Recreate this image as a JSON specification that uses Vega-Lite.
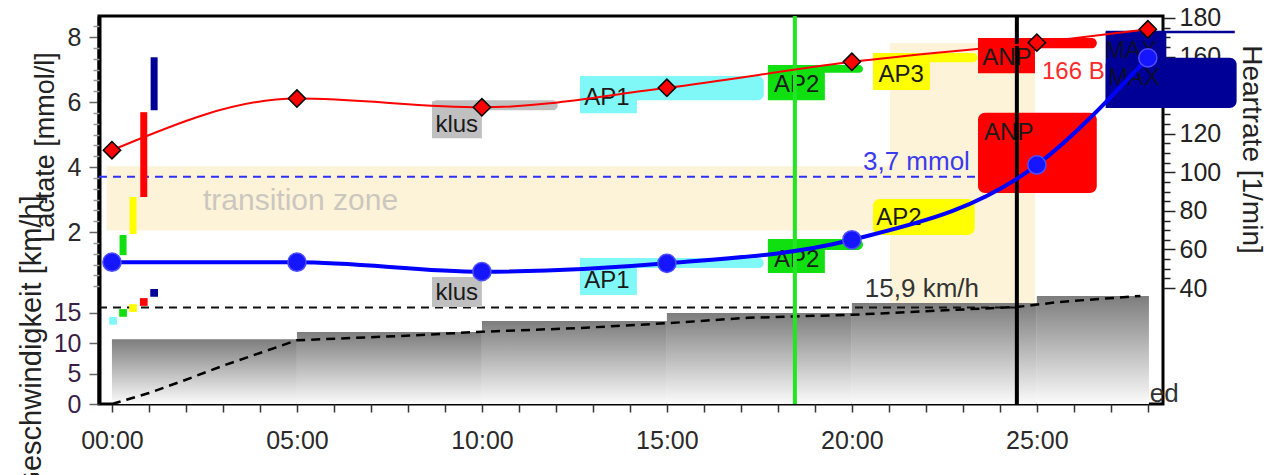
{
  "$schema": "https://vega.github.io/schema/vega-lite/v6.json",
  "width": 1064,
  "height": 388,
  "autosize": {"type": "none"},
  "padding": {"left": 99, "top": 16, "right": 105, "bottom": 71},
  "background": "white",
  "config": {
    "font": "Liberation Sans",
    "view": {"stroke": "#000", "strokeWidth": 3},
    "axis": {"grid": false, "domain": false, "labelFont": "Liberation Sans", "labelFontSize": 25, "labelColor": "#222", "tickColor": "#333", "titleFont": "Liberation Sans", "titleFontWeight": "normal", "titleColor": "#222", "labelOverlap": false}
  },
  "datasets": {
    "zones": [{"t": -0.15, "t2": 24.95, "L": 2.05, "L2": 4.03}, {"t": 21.03, "t2": 24.95, "L": -0.5, "L2": 7.82}],
    "ztext": [{"t": 2.46, "L": 2.68, "txt": "transition zone"}],
    "lac37": [{"t": -0.35, "t2": 23.38, "L": 3.7}],
    "spd159": [{"t": -0.35, "t2": 24.5, "S": 15.9}],
    "steps": [
      {"t": 0, "t2": 5, "S": 10.65}, {"t": 5, "t2": 10, "S": 11.86}, {"t": 10, "t2": 15, "S": 13.67},
      {"t": 15, "t2": 20, "S": 14.99}, {"t": 20, "t2": 25, "S": 16.63}, {"t": 25, "t2": 28.03, "S": 17.79}
    ],
    "spdline": [
      {"t": 0, "S": 0}, {"t": 1, "S": 1.8}, {"t": 2, "S": 4.0}, {"t": 3, "S": 6.3}, {"t": 4, "S": 8.4}, {"t": 5, "S": 10.5},
      {"t": 7.8, "S": 11.2}, {"t": 10, "S": 11.9}, {"t": 12.6, "S": 12.5}, {"t": 15, "S": 13.3}, {"t": 17.2, "S": 14.2},
      {"t": 20, "S": 14.7}, {"t": 24.5, "S": 16.0}, {"t": 25.6, "S": 16.8}, {"t": 27.8, "S": 17.8}
    ],
    "indBars": [
      {"t": 0.30, "L": 1.29, "L2": 1.91, "zone": "AP2"}, {"t": 0.57, "L": 1.94, "L2": 3.08, "zone": "AP3"},
      {"t": 0.86, "L": 3.08, "L2": 5.69, "zone": "ANP"}, {"t": 1.14, "L": 5.75, "L2": 7.38, "zone": "MAX"}
    ],
    "indSq": [
      {"t": 0.03, "S": 13.7, "zone": "AP1"}, {"t": 0.30, "S": 15.0, "zone": "AP2"}, {"t": 0.57, "S": 15.8, "zone": "AP3"},
      {"t": 0.86, "S": 16.8, "zone": "ANP"}, {"t": 1.14, "S": 18.3, "zone": "MAX"}
    ],
    "lacBands": [
      {"t": 8.65, "t2": 12.05, "L": 5.75, "L2": 6.06, "zone": "klus"},
      {"t": 12.65, "t2": 17.62, "L": 6.06, "L2": 6.8, "zone": "AP1"},
      {"t": 17.73, "t2": 20.3, "L": 6.9, "L2": 7.14, "zone": "AP2"},
      {"t": 20.57, "t2": 23.4, "L": 7.23, "L2": 7.51, "zone": "AP3"},
      {"t": 23.41, "t2": 26.62, "L": 7.66, "L2": 7.97, "zone": "ANP"}
    ],
    "lacBoxes": [
      {"t": 8.65, "t2": 10.0, "L": 4.89, "L2": 6.03, "zone": "klus"},
      {"t": 12.65, "t2": 14.19, "L": 5.66, "L2": 6.8, "zone": "AP1"},
      {"t": 17.73, "t2": 19.27, "L": 6.06, "L2": 7.14, "zone": "AP2"},
      {"t": 20.57, "t2": 22.11, "L": 6.37, "L2": 7.51, "zone": "AP3"},
      {"t": 23.41, "t2": 24.95, "L": 6.89, "L2": 7.97, "zone": "ANP"}
    ],
    "hrRounded": [
      {"t": 12.65, "t2": 17.62, "H": 50.4, "H2": 55.6, "zone": "AP1"},
      {"t": 17.73, "t2": 20.3, "H": 59.7, "H2": 65.4, "zone": "AP2"},
      {"t": 20.57, "t2": 23.32, "H": 67.5, "H2": 86.2, "zone": "AP3"},
      {"t": 23.41, "t2": 26.62, "H": 89.3, "H2": 130.8, "zone": "ANP"}
    ],
    "hrBoxes": [
      {"t": 8.65, "t2": 10.0, "H": 30.2, "H2": 45.7, "zone": "klus"},
      {"t": 12.65, "t2": 14.19, "H": 36.4, "H2": 55.6, "zone": "AP1"},
      {"t": 17.73, "t2": 19.27, "H": 47.8, "H2": 65.4, "zone": "AP2"}
    ],
    "lacLabels": [
      {"t": 9.32, "L": 5.08, "txt": "klus"}, {"t": 13.38, "L": 5.91, "txt": "AP1"}, {"t": 18.51, "L": 6.31, "txt": "AP2"},
      {"t": 21.33, "L": 6.62, "txt": "AP3"}, {"t": 24.19, "L": 7.14, "txt": "ANP"}
    ],
    "hrLabels": [
      {"t": 9.32, "H": 33.8, "txt": "klus"}, {"t": 13.38, "H": 40.0, "txt": "AP1"}, {"t": 18.51, "H": 50.9, "txt": "AP2"},
      {"t": 21.27, "H": 72.7, "txt": "AP2"}, {"t": 24.24, "H": 116.8, "txt": "ANP"}
    ],
    "bpm": [{"t": 25.14, "L": 6.71, "txt": "166 BPM"}],
    "mmol": [{"t": 20.3, "L": 3.91, "txt": "3,7 mmol"}],
    "kmh": [{"t": 20.35, "S": 17.6, "txt": "15,9 km/h"}],
    "maxSq": [{"t": 26.86, "t2": 28.5, "H": 133.3, "H2": 172.7, "zone": "MAX"}],
    "maxRound": [{"t": 26.86, "t2": 30.4, "H": 133.3, "H2": 159.3, "zone": "MAX"}],
    "maxLine": [{"t": 26.86, "t2": 30.35, "H": 172.7}],
    "maxLabels": [{"t": 26.84, "H": 159.3, "txt": "MAX"}, {"t": 26.92, "H": 145.3, "txt": "MAX"}],
    "greenLine": [{"t": 18.46}],
    "blackLine": [{"t": 24.46}],
    "lac": [
      {"t": 0, "L": 4.52}, {"t": 5, "L": 6.11}, {"t": 10, "L": 5.84}, {"t": 15, "L": 6.44},
      {"t": 20, "L": 7.24}, {"t": 25, "L": 7.83}, {"t": 28, "L": 8.24}
    ],
    "hr": [
      {"t": 0, "H": 53.4}, {"t": 5, "H": 53.4}, {"t": 10, "H": 48.5}, {"t": 15, "H": 52.8},
      {"t": 20, "H": 65.0}, {"t": 25, "H": 103.8}, {"t": 28, "H": 159.3}
    ],
    "ed": [{"t": 28.05, "S": 0.33, "txt": "ed"}]
  },
  "encoding": {
    "x": {
      "field": "t", "type": "quantitative",
      "scale": {"domain": [-0.35, 28.41], "nice": false, "zero": false},
      "axis": {
        "values": [0,1,2,3,4,5,6,7,8,9,10,11,12,13,14,15,16,17,18,19,20,21,22,23,24,25,26,27,28],
        "labelExpr": "datum.value % 5 === 0 ? (datum.value < 10 ? '0' : '') + datum.value + ':00' : ''",
        "tickSize": 8, "tickWidth": 1.5, "labelPadding": 16, "labelFlush": false, "title": null, "domain": false, "labelColor": "#2a2a2a"
      }
    }
  },
  "resolve": {"scale": {"y": "independent"}},
  "layer": [
    {
      "data": {"name": "zones"},
      "mark": {"type": "rect", "fill": "#fdf3d8", "stroke": null},
      "encoding": {
        "x2": {"field": "t2"},
        "y": {"field": "L", "type": "quantitative", "scale": {"domain": [-3.29, 8.65], "nice": false, "zero": false}, "axis": null},
        "y2": {"field": "L2"}
      }
    },
    {
      "data": {"name": "ztext"},
      "mark": {"type": "text", "align": "left", "baseline": "alphabetic", "fontSize": 30, "color": "#cbc7bf"},
      "encoding": {
        "y": {"field": "L", "type": "quantitative", "scale": {"domain": [-3.29, 8.65], "nice": false, "zero": false}, "axis": null},
        "text": {"field": "txt"}
      }
    },
    {
      "data": {"name": "steps"},
      "mark": {"type": "rect", "fill": {"gradient": "linear", "x1": 0, "y1": 0, "x2": 0, "y2": 1, "stops": [{"offset": 0, "color": "#7d7d7d"}, {"offset": 1, "color": "#fbfbfb"}]}, "stroke": null},
      "encoding": {
        "x2": {"field": "t2"},
        "y": {"field": "S", "type": "quantitative", "scale": {"domain": [0, 63.9], "nice": false, "zero": false},
          "axis": {"orient": "left", "values": [0, 5, 10, 15], "tickSize": 10, "tickWidth": 1.5, "tickColor": "#666", "labelPadding": 8, "labelColor": "#3a1e46", "domain": false,
            "title": "Geschwindigkeit [km/h]", "titleAngle": 270, "titleAlign": "center", "titleBaseline": "alphabetic", "titleX": -59, "titleY": 328, "titleFontSize": 29}},
        "y2": {"datum": 0}
      }
    },
    {
      "data": {"name": "lac37"},
      "mark": {"type": "rule", "color": "#3030ff", "strokeDash": [8, 6], "strokeWidth": 2},
      "encoding": {
        "x2": {"field": "t2"},
        "y": {"field": "L", "type": "quantitative", "scale": {"domain": [-3.29, 8.65], "nice": false, "zero": false}, "axis": null}
      }
    },
    {
      "data": {"name": "spd159"},
      "mark": {"type": "rule", "color": "#111", "strokeDash": [8, 6], "strokeWidth": 2},
      "encoding": {
        "x2": {"field": "t2"},
        "y": {"field": "S", "type": "quantitative", "scale": {"domain": [0, 63.9], "nice": false, "zero": false}, "axis": null}
      }
    },
    {
      "data": {"name": "spdline"},
      "mark": {"type": "line", "color": "#000", "strokeDash": [9, 6], "strokeWidth": 2.5},
      "encoding": {
        "y": {"field": "S", "type": "quantitative", "scale": {"domain": [0, 63.9], "nice": false, "zero": false}, "axis": null}
      }
    },
    {
      "data": {"name": "indBars"},
      "mark": {"type": "rule", "strokeWidth": 7},
      "encoding": {
        "y": {"field": "L", "type": "quantitative", "scale": {"domain": [-3.29, 8.65], "nice": false, "zero": false}, "axis": null},
        "y2": {"field": "L2"},
        "color": {"field": "zone", "type": "nominal", "scale": {"domain": ["klus", "AP1", "AP2", "AP3", "ANP", "MAX"], "range": ["#c0c0c0", "#80f8f8", "#10e010", "#ffff00", "#ff0000", "#000096"]}, "legend": null}
      }
    },
    {
      "data": {"name": "indSq"},
      "mark": {"type": "square", "size": 60, "filled": true, "opacity": 1},
      "encoding": {
        "y": {"field": "S", "type": "quantitative", "scale": {"domain": [0, 63.9], "nice": false, "zero": false}, "axis": null},
        "color": {"field": "zone", "type": "nominal", "scale": {"domain": ["klus", "AP1", "AP2", "AP3", "ANP", "MAX"], "range": ["#c0c0c0", "#80f8f8", "#10e010", "#ffff00", "#ff0000", "#000096"]}, "legend": null}
      }
    },
    {
      "data": {"name": "lacBands"},
      "mark": {"type": "rect", "cornerRadius": 6, "stroke": null},
      "encoding": {
        "x2": {"field": "t2"},
        "y": {"field": "L", "type": "quantitative", "scale": {"domain": [-3.29, 8.65], "nice": false, "zero": false}, "axis": null},
        "y2": {"field": "L2"},
        "color": {"field": "zone", "type": "nominal", "scale": {"domain": ["klus", "AP1", "AP2", "AP3", "ANP", "MAX"], "range": ["#c0c0c0", "#80f8f8", "#10e010", "#ffff00", "#ff0000", "#000096"]}, "legend": null}
      }
    },
    {
      "data": {"name": "lacBoxes"},
      "mark": {"type": "rect", "stroke": null},
      "encoding": {
        "x2": {"field": "t2"},
        "y": {"field": "L", "type": "quantitative", "scale": {"domain": [-3.29, 8.65], "nice": false, "zero": false}, "axis": null},
        "y2": {"field": "L2"},
        "color": {"field": "zone", "type": "nominal", "scale": {"domain": ["klus", "AP1", "AP2", "AP3", "ANP", "MAX"], "range": ["#c0c0c0", "#80f8f8", "#10e010", "#ffff00", "#ff0000", "#000096"]}, "legend": null}
      }
    },
    {
      "data": {"name": "hrRounded"},
      "mark": {"type": "rect", "cornerRadius": 7, "stroke": null},
      "encoding": {
        "x2": {"field": "t2"},
        "y": {"field": "H", "type": "quantitative", "scale": {"domain": [-20.1, 181], "nice": false, "zero": false}, "axis": null},
        "y2": {"field": "H2"},
        "color": {"field": "zone", "type": "nominal", "scale": {"domain": ["klus", "AP1", "AP2", "AP3", "ANP", "MAX"], "range": ["#c0c0c0", "#80f8f8", "#10e010", "#ffff00", "#ff0000", "#000096"]}, "legend": null}
      }
    },
    {
      "data": {"name": "hrBoxes"},
      "mark": {"type": "rect", "stroke": null},
      "encoding": {
        "x2": {"field": "t2"},
        "y": {"field": "H", "type": "quantitative", "scale": {"domain": [-20.1, 181], "nice": false, "zero": false}, "axis": null},
        "y2": {"field": "H2"},
        "color": {"field": "zone", "type": "nominal", "scale": {"domain": ["klus", "AP1", "AP2", "AP3", "ANP", "MAX"], "range": ["#c0c0c0", "#80f8f8", "#10e010", "#ffff00", "#ff0000", "#000096"]}, "legend": null}
      }
    },
    {
      "data": {"name": "lacLabels"},
      "mark": {"type": "text", "align": "center", "baseline": "alphabetic", "fontSize": 24, "color": "#1a1a1a"},
      "encoding": {
        "y": {"field": "L", "type": "quantitative", "scale": {"domain": [-3.29, 8.65], "nice": false, "zero": false}, "axis": null},
        "text": {"field": "txt"}
      }
    },
    {
      "data": {"name": "hrLabels"},
      "mark": {"type": "text", "align": "center", "baseline": "alphabetic", "fontSize": 24, "color": "#1a1a1a"},
      "encoding": {
        "y": {"field": "H", "type": "quantitative", "scale": {"domain": [-20.1, 181], "nice": false, "zero": false}, "axis": null},
        "text": {"field": "txt"}
      }
    },
    {
      "data": {"name": "mmol"},
      "mark": {"type": "text", "align": "left", "baseline": "alphabetic", "fontSize": 26, "color": "#3b3bf0"},
      "encoding": {
        "y": {"field": "L", "type": "quantitative", "scale": {"domain": [-3.29, 8.65], "nice": false, "zero": false}, "axis": null},
        "text": {"field": "txt"}
      }
    },
    {
      "data": {"name": "kmh"},
      "mark": {"type": "text", "align": "left", "baseline": "alphabetic", "fontSize": 26, "color": "#333"},
      "encoding": {
        "y": {"field": "S", "type": "quantitative", "scale": {"domain": [0, 63.9], "nice": false, "zero": false}, "axis": null},
        "text": {"field": "txt"}
      }
    },
    {
      "data": {"name": "bpm"},
      "mark": {"type": "text", "align": "left", "baseline": "alphabetic", "fontSize": 24, "color": "#ff2a2a"},
      "encoding": {
        "y": {"field": "L", "type": "quantitative", "scale": {"domain": [-3.29, 8.65], "nice": false, "zero": false}, "axis": null},
        "text": {"field": "txt"}
      }
    },
    {
      "data": {"name": "maxRound"},
      "mark": {"type": "rect", "cornerRadius": 7, "stroke": null},
      "encoding": {
        "x2": {"field": "t2"},
        "y": {"field": "H", "type": "quantitative", "scale": {"domain": [-20.1, 181], "nice": false, "zero": false}, "axis": null},
        "y2": {"field": "H2"},
        "color": {"field": "zone", "type": "nominal", "scale": {"domain": ["klus", "AP1", "AP2", "AP3", "ANP", "MAX"], "range": ["#c0c0c0", "#80f8f8", "#10e010", "#ffff00", "#ff0000", "#000096"]}, "legend": null}
      }
    },
    {
      "data": {"name": "maxSq"},
      "mark": {"type": "rect", "stroke": null},
      "encoding": {
        "x2": {"field": "t2"},
        "y": {"field": "H", "type": "quantitative", "scale": {"domain": [-20.1, 181], "nice": false, "zero": false}, "axis": null},
        "y2": {"field": "H2"},
        "color": {"field": "zone", "type": "nominal", "scale": {"domain": ["klus", "AP1", "AP2", "AP3", "ANP", "MAX"], "range": ["#c0c0c0", "#80f8f8", "#10e010", "#ffff00", "#ff0000", "#000096"]}, "legend": null}
      }
    },
    {
      "data": {"name": "maxLine"},
      "mark": {"type": "rule", "color": "#000096", "strokeWidth": 2.5},
      "encoding": {
        "x2": {"field": "t2"},
        "y": {"field": "H", "type": "quantitative", "scale": {"domain": [-20.1, 181], "nice": false, "zero": false}, "axis": null}
      }
    },
    {
      "data": {"name": "maxLabels"},
      "mark": {"type": "text", "align": "left", "baseline": "alphabetic", "fontSize": 24, "color": "#0c0c30"},
      "encoding": {
        "y": {"field": "H", "type": "quantitative", "scale": {"domain": [-20.1, 181], "nice": false, "zero": false}, "axis": null},
        "text": {"field": "txt"}
      }
    },
    {
      "data": {"name": "greenLine"},
      "mark": {"type": "rule", "color": "#22e622", "strokeWidth": 4},
      "encoding": {}
    },
    {
      "data": {"name": "blackLine"},
      "mark": {"type": "rule", "color": "#000", "strokeWidth": 4},
      "encoding": {}
    },
    {
      "data": {"name": "lac"},
      "mark": {"type": "line", "color": "#ff0000", "strokeWidth": 2, "interpolate": "monotone"},
      "encoding": {
        "y": {"field": "L", "type": "quantitative", "scale": {"domain": [-3.29, 8.65], "nice": false, "zero": false},
          "axis": {"orient": "left", "values": [2, 4, 6, 8], "tickSize": 10, "tickWidth": 1.5, "tickColor": "#666", "labelPadding": 8, "labelColor": "#2a2a2a",
            "domain": true, "domainColor": "#000", "domainWidth": 4,
            "title": "Lactate [mmol/l]", "titleAngle": 270, "titleAlign": "center", "titleBaseline": "alphabetic", "titleX": -46, "titleY": 131, "titleFontSize": 27}}
      }
    },
    {
      "data": {"name": "hr"},
      "mark": {"type": "line", "color": "#0000ff", "strokeWidth": 4, "interpolate": "monotone"},
      "encoding": {
        "y": {"field": "H", "type": "quantitative", "scale": {"domain": [-20.1, 181], "nice": false, "zero": false},
          "axis": {"orient": "right", "values": [40, 60, 80, 100, 120, 140, 160, 180], "tickSize": 12, "tickWidth": 1.5, "tickColor": "#222", "labelPadding": 4, "domain": false,
            "title": "Heartrate [1/min]", "titleAngle": 90, "titleAlign": "center", "titleBaseline": "alphabetic", "titleX": 79, "titleY": 133, "titleFontSize": 28}}
      }
    },
    {
      "data": {"name": "lac"},
      "mark": {"type": "point", "shape": "diamond", "filled": true, "fill": "#ff0000", "stroke": "#000", "strokeWidth": 1.5, "size": 300, "opacity": 1},
      "encoding": {
        "y": {"field": "L", "type": "quantitative", "scale": {"domain": [-3.29, 8.65], "nice": false, "zero": false},
          "axis": {"orient": "left", "values": [0.333, 0.667, 1, 1.333, 1.667, 2.333, 2.667, 3, 3.333, 3.667, 4.333, 4.667, 5, 5.333, 5.667, 6.333, 6.667, 7, 7.333, 7.667, 8.333],
            "tickSize": 6, "tickWidth": 1.5, "tickColor": "#999", "labels": false, "domain": false, "title": null}}
      }
    },
    {
      "data": {"name": "hr"},
      "mark": {"type": "point", "shape": "circle", "filled": true, "fill": "#1515ff", "stroke": "#4d4dff", "strokeWidth": 1.5, "size": 330, "opacity": 1},
      "encoding": {
        "y": {"field": "H", "type": "quantitative", "scale": {"domain": [-20.1, 181], "nice": false, "zero": false},
          "axis": {"orient": "right", "values": [45, 50, 55, 65, 70, 75, 85, 90, 95, 105, 110, 115, 125, 130, 135, 145, 150, 155, 165, 170, 175],
            "tickSize": 7, "tickWidth": 1.5, "tickColor": "#222", "labels": false, "domain": false, "title": null}}
      }
    },
    {
      "data": {"name": "ed"},
      "mark": {"type": "text", "align": "left", "baseline": "alphabetic", "fontSize": 26, "color": "#333"},
      "encoding": {
        "y": {"field": "S", "type": "quantitative", "scale": {"domain": [0, 63.9], "nice": false, "zero": false}, "axis": null},
        "text": {"field": "txt"}
      }
    }
  ]
}
